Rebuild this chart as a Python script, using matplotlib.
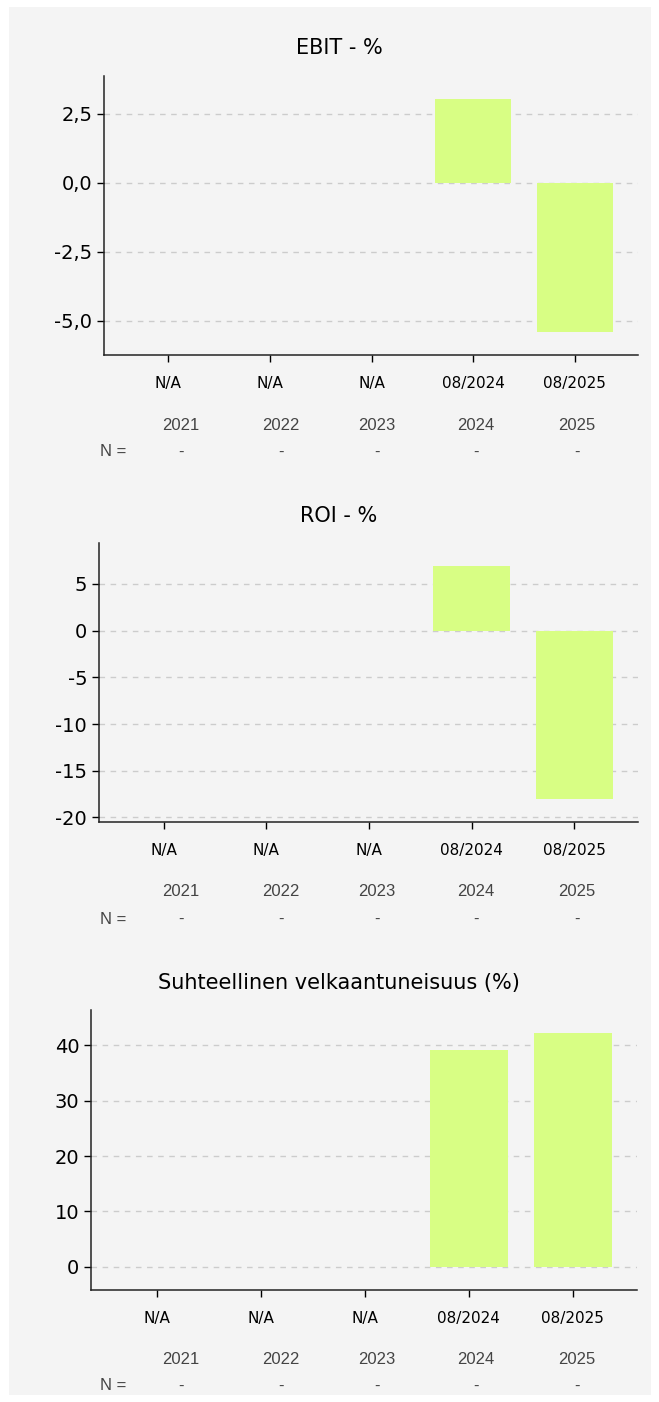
import numpy as np
import matplotlib
matplotlib.use("Agg")
import matplotlib.pyplot as plt
from matplotlib.patches import Rectangle
from matplotlib.ticker import FuncFormatter

# data
categories = ["N/A", "N/A", "N/A", "08/2024", "08/2025"]
years = ["2021", "2022", "2023", "2024", "2025"]
n_counts = ["-", "-", "-", "-", "-"]
ebit = [np.nan, np.nan, np.nan, 3.02, -5.4]
roi = [np.nan, np.nan, np.nan, 6.9, -18.0]
debt = [np.nan, np.nan, np.nan, 39.1, 42.2]

titles = ["EBIT - %", "ROI - %", "Suhteellinen velkaantuneisuus (%)"]
series = [ebit, roi, debt]
yticks = [[-5, -2.5, 0, 2.5], [-20, -15, -10, -5, 0, 5], [0, 10, 20, 30, 40]]
decimals = [1, 0, 0]

plt.rcParams["axes.unicode_minus"] = False

W, H = 659, 1402
fig = plt.figure(figsize=(W / 100, H / 100), dpi=100, facecolor="white")

def fx(x):
    return x / W

def fy(y):
    return 1 - y / H

# grey panel behind everything
fig.patches.append(Rectangle((fx(9), fy(1395)), fx(651) - fx(9), fy(7) - fy(1395),
                             transform=fig.transFigure, facecolor="#f4f4f4",
                             edgecolor="none", zorder=-5))

# (left, right, top, bottom) of each axes, title y, year row y, N row y
boxes = [(104, 638, 76, 355, 48, 425, 452),
         (99, 638, 543, 822, 516, 891, 919),
         (91, 637, 1010, 1290, 983, 1359, 1386)]
year_x = [181, 281, 377, 476, 577]
x = np.arange(len(categories))

for vals, title, ticks, dec, (l, r, t, b, ty, yy, ny) in zip(series, titles, yticks, decimals, boxes):
    ax = fig.add_axes([fx(l), fy(b), fx(r) - fx(l), fy(t) - fy(b)])
    ax.set_zorder(1)
    ax.set_facecolor("none")
    ax.bar(x, vals, width=0.75, color="#d8fe84", zorder=2)
    ax.use_sticky_edges = False
    ax.margins(y=0.1)
    ax.set_xlim(-0.63, 4.62)
    ax.set_xticks(x)
    ax.set_xticklabels(categories, fontsize=11)
    ax.set_yticks(ticks)
    ax.yaxis.set_major_formatter(FuncFormatter(
        lambda v, p, d=dec: f"{v:.{d}f}".replace(".", ",")))
    ax.tick_params(axis="y", labelsize=14, length=5, width=1)
    ax.tick_params(axis="x", length=5, width=1, pad=10)
    ax.grid(axis="y", linestyle=(0, (4, 4)), color="#cccccc", linewidth=1, zorder=1)
    for s in ["top", "right"]:
        ax.spines[s].set_visible(False)
    for s in ["left", "bottom"]:
        ax.spines[s].set_color("#222222")
        ax.spines[s].set_linewidth(1.1)

    fig.text(fx(339), fy(ty), title, fontsize=15, ha="center", va="center")
    for xp, yr, n in zip(year_x, years, n_counts):
        fig.text(fx(xp), fy(yy), yr, fontsize=12, family="Liberation Sans",
                 color="#444444", ha="center", va="center")
        fig.text(fx(xp), fy(ny), n, fontsize=12, family="Liberation Sans",
                 color="#444444", ha="center", va="center")
    fig.text(fx(113), fy(ny), "N =", fontsize=12, family="Liberation Sans",
             color="#444444", ha="center", va="center")

fig.savefig("out.png", dpi=100, facecolor="white")
